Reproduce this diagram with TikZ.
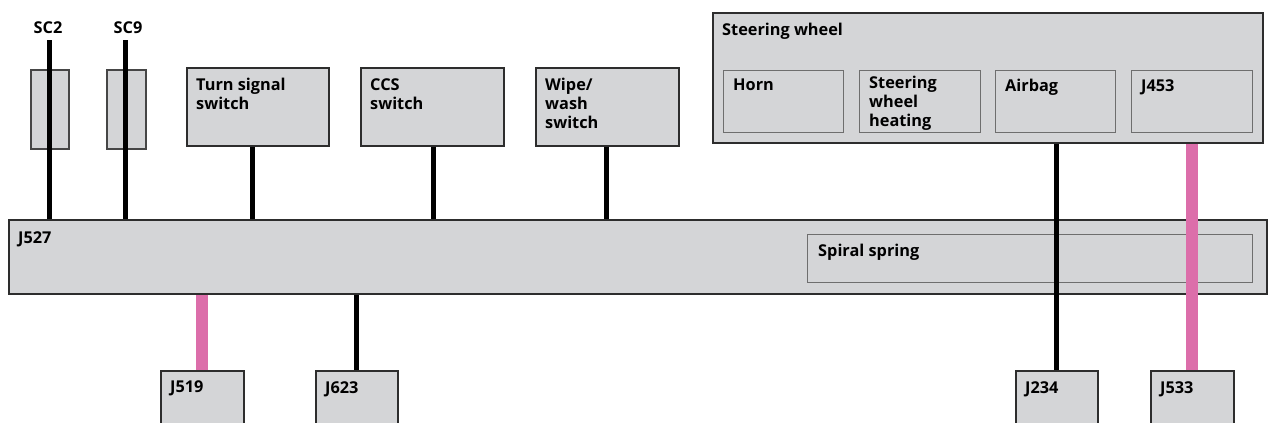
\documentclass[tikz,border=0pt]{standalone}
\usepackage{fontspec}
\setmainfont{Open Sans}
\definecolor{boxfill}{RGB}{212,213,215}
\definecolor{boxline}{RGB}{45,45,45}
\definecolor{innerline}{RGB}{110,110,110}
\definecolor{fuseline}{RGB}{70,70,70}
\definecolor{pinkbus}{RGB}{220,110,170}
\begin{document}
\begin{tikzpicture}[x=1pt,y=-1pt,
  box/.style={draw=boxline,line width=1.8pt,fill=boxfill,anchor=north west,inner sep=0pt},
  inbox/.style={draw=innerline,line width=1.3pt,fill=boxfill,anchor=north west,inner sep=0pt},
  fuse/.style={draw=fuseline,line width=1.5pt,fill=boxfill,anchor=north west,inner sep=0pt},
  lbl/.style={anchor=north west,inner sep=0pt,align=left,font=\fontsize{16.3}{19}\selectfont\bfseries},
  toplbl/.style={inner sep=0pt,font=\fontsize{16.3}{19}\selectfont\bfseries},
  wire/.style={line width=5pt,black},
  pwire/.style={line width=12pt,pinkbus}]
\clip (0,0) rectangle (1269,423);
\fill[white] (0,0) rectangle (1269,423);
% main bus box
\node[box,minimum width=1258pt,minimum height=74pt] (j527) at (8,219) {};
\node[lbl] (j527l) at ([shift={(10,12)}]j527.north west) {J527};
\node[inbox,minimum width=445pt,minimum height=48pt] (spiral) at (807,234) {};
\node[lbl] (spirall) at ([shift={(11,10)}]spiral.north west) {Spiral spring};
% fuses
\node[fuse,minimum width=38pt,minimum height=79pt] (f2) at (30,69) {};
\node[fuse,minimum width=39pt,minimum height=79pt] (f9) at (106,69) {};
\node[toplbl] (sc2) at (48,28) {SC2};
\node[toplbl] (sc9) at (128,28) {SC9};
\coordinate (sc2t) at (49,40);
\coordinate (sc9t) at (125.5,40);
\draw[wire] (sc2t) -- (sc2t |- j527.north);
\draw[wire] (sc9t) -- (sc9t |- j527.north);
% switches
\node[box,minimum width=142pt,minimum height=78pt] (ts) at (186,67) {};
\node[lbl] (tsl) at ([shift={(10,11)}]ts.north west) {Turn signal\\switch};
\node[box,minimum width=143pt,minimum height=78pt] (ccs) at (360,67) {};
\node[lbl] (ccsl) at ([shift={(10,11)}]ccs.north west) {CCS\\switch};
\node[box,minimum width=143pt,minimum height=78pt] (ww) at (535,67) {};
\node[lbl] (wwl) at ([shift={(10,11)}]ww.north west) {Wipe/\\wash\\switch};
\draw[wire] ([xshift=-5pt]ts.south) -- ([xshift=-5pt]ts.south |- j527.north);
\draw[wire] ([xshift=1pt]ccs.south) -- ([xshift=1pt]ccs.south |- j527.north);
\draw[wire] ([xshift=-0.5pt]ww.south) -- ([xshift=-0.5pt]ww.south |- j527.north);
% steering wheel
\node[box,minimum width=550pt,minimum height=130pt] (sw) at (712,12) {};
\node[lbl] (swl) at ([shift={(10,11)}]sw.north west) {Steering wheel};
\node[inbox,minimum width=120pt,minimum height=62pt] (horn) at (723,70) {};
\node[lbl] (hornl) at ([shift={(10,9)}]horn.north west) {Horn};
\node[inbox,minimum width=121pt,minimum height=62pt] (heat) at (859,70) {};
\node[lbl] (heatl) at ([shift={(10,6)}]heat.north west) {Steering\\wheel\\heating};
\node[inbox,minimum width=120pt,minimum height=62pt] (airbag) at (995,70) {};
\node[lbl] (airbagl) at ([shift={(10,9)}]airbag.north west) {Airbag};
\node[inbox,minimum width=121pt,minimum height=62pt] (j453) at (1131,70) {};
\node[lbl] (j453l) at ([shift={(10,9)}]j453.north west) {J453};
% lower control units
\node[box,minimum width=83pt,minimum height=80pt] (j519) at (160,370) {};
\node[lbl] (j519l) at ([shift={(10,11)}]j519.north west) {J519};
\node[box,minimum width=82pt,minimum height=80pt] (j623) at (315,370) {};
\node[lbl] (j623l) at ([shift={(10,11)}]j623.north west) {J623};
\node[box,minimum width=82pt,minimum height=80pt] (j234) at (1015,370) {};
\node[lbl] (j234l) at ([shift={(10,11)}]j234.north west) {J234};
\node[box,minimum width=83pt,minimum height=80pt] (j533) at (1150,370) {};
\node[lbl] (j533l) at ([shift={(10,11)}]j533.north west) {J533};
% connections down
\draw[pwire] (j519.north |- j527.south) -- (j519.north);
\draw[wire] (j623.north |- j527.south) -- (j623.north);
\draw[wire] (j234.north |- sw.south) -- (j234.north);
\draw[pwire] (j533.north |- sw.south) -- (j533.north);
\end{tikzpicture}
\end{document}
